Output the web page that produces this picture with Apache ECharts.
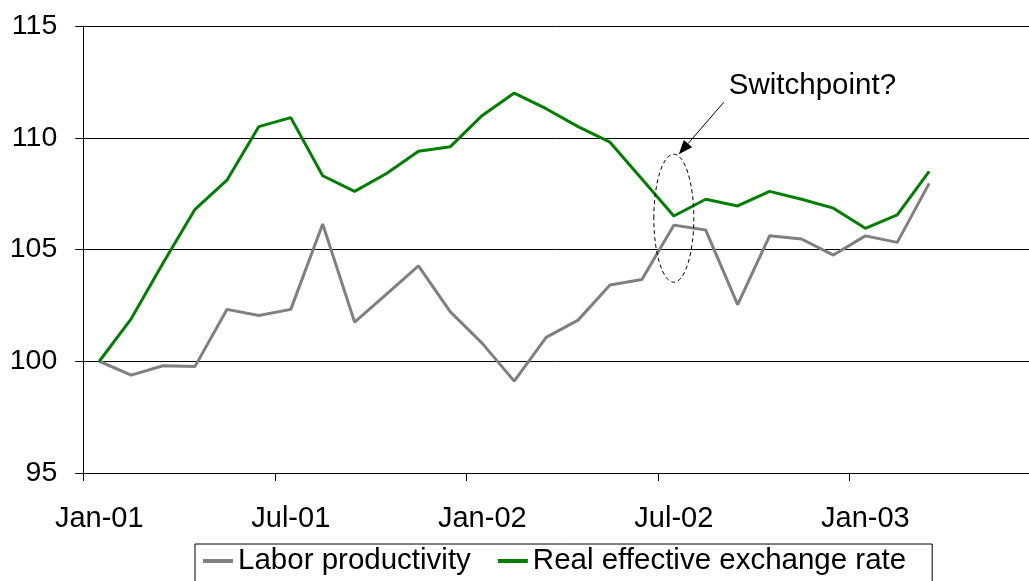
<!DOCTYPE html>
<html>
<head>
<meta charset="utf-8">
<script src="https://cdn.jsdelivr.net/npm/echarts@6/dist/echarts.min.js"></script>
<style>
  html, body { margin: 0; padding: 0; background: #fff; }
  #chart { width: 1029px; height: 581px; }
</style>
</head>
<body>
<div id="chart"></div>
<script>
// Monthly index, Jan-01 = 100
const months = [
  'Jan-01','Feb-01','Mar-01','Apr-01','May-01','Jun-01','Jul-01','Aug-01','Sep-01','Oct-01','Nov-01','Dec-01',
  'Jan-02','Feb-02','Mar-02','Apr-02','May-02','Jun-02','Jul-02','Aug-02','Sep-02','Oct-02','Nov-02','Dec-02',
  'Jan-03','Feb-03','Mar-03','Apr-03','May-03','Jun-03'
];

const laborProductivity = [
  100.0, 99.38, 99.8, 99.77, 102.32, 102.05, 102.32, 106.14, 101.75, 103.0, 104.27, 102.21,
  100.8, 99.11, 101.07, 101.84, 103.41, 103.66, 106.09, 105.87, 102.53, 105.61, 105.47, 104.75,
  105.61, 105.32, 107.96
];

const realEffectiveRate = [
  100.0, 101.9, 104.4, 106.8, 108.1, 110.5, 110.9, 108.3, 107.6, 108.4, 109.4, 109.6,
  111.0, 112.0, 111.3, 110.5, 109.8, 108.15, 106.5, 107.25, 106.95, 107.6, 107.25, 106.85,
  105.95, 106.55, 108.5
];

const seriesNames = ['Labor productivity', 'Real effective exchange rate'];
const annotationText = 'Switchpoint?';
// where the dashed ellipse is centred: month index and index level
const switchPoint = [18, 106.4];

const FONT = '"Liberation Sans", Arial, sans-serif';

const chart = echarts.init(document.getElementById('chart'), null, { renderer: 'canvas' });

chart.setOption({
  animation: false,
  backgroundColor: '#fff',
  textStyle: { fontFamily: FONT },
  // the plot runs a little past the right edge of the page
  grid: {
    left: 83.3, top: 26, width: 957.6, height: 447,
    containLabel: false,
    outerBoundsMode: 'none'
  },
  legend: {
    data: seriesNames,
    left: 195,
    top: 544,
    orient: 'horizontal',
    icon: 'rect',
    itemWidth: 30,
    itemHeight: 4,
    itemGap: 27,
    padding: [2, 26, 12, 8],
    borderColor: '#000',
    borderWidth: 1,
    textStyle: { fontSize: 29.5, color: '#000', fontFamily: FONT }
  },
  xAxis: {
    type: 'category',
    data: months,
    boundaryGap: true,
    axisLine: { lineStyle: { color: '#000', width: 1 } },
    axisTick: { show: true, interval: 5, length: 8, lineStyle: { color: '#000' } },
    axisLabel: { interval: 5, margin: 31, fontSize: 29, color: '#000', fontFamily: FONT },
    splitLine: { show: false }
  },
  yAxis: {
    type: 'value',
    min: 95,
    max: 115,
    interval: 5,
    axisLine: { show: true, lineStyle: { color: '#000', width: 1 } },
    axisTick: { show: true, length: 8, lineStyle: { color: '#000' } },
    axisLabel: { margin: 26, fontSize: 28.5, color: '#000', fontFamily: FONT },
    splitLine: { show: true, lineStyle: { color: '#000', width: 1 } }
  },
  series: [
    {
      name: seriesNames[0],
      type: 'line',
      data: laborProductivity,
      showSymbol: false,
      symbol: 'none',
      lineStyle: { color: '#808080', width: 3 },
      itemStyle: { color: '#808080' },
      z: 3
    },
    {
      name: seriesNames[1],
      type: 'line',
      data: realEffectiveRate,
      showSymbol: false,
      symbol: 'none',
      lineStyle: { color: '#008000', width: 3 },
      itemStyle: { color: '#008000' },
      z: 4
    }
  ]
});

// Dashed ellipse with a callout arrow, anchored to the plotted scale
const c = chart.convertToPixel({ seriesIndex: 0 }, switchPoint);
const rx = 20, ry = 64;
const tip = [c[0] + 5, c[1] - ry];
const tail = [c[0] + 50, c[1] - 116];
const dx = tip[0] - tail[0], dy = tip[1] - tail[1];
const len = Math.sqrt(dx * dx + dy * dy);
const ux = dx / len, uy = dy / len;
const headLen = 14, headHalf = 5.5;
const base = [tip[0] - ux * headLen, tip[1] - uy * headLen];
const head = [
  tip,
  [base[0] - uy * headHalf, base[1] + ux * headHalf],
  [base[0] + uy * headHalf, base[1] - ux * headHalf]
];

chart.setOption({
  graphic: [
    {
      type: 'ellipse',
      shape: { cx: c[0], cy: c[1], rx: rx, ry: ry },
      style: { fill: 'none', stroke: '#000', lineWidth: 1, lineDash: [4, 3] },
      z: 10
    },
    {
      type: 'line',
      shape: { x1: tail[0], y1: tail[1], x2: base[0], y2: base[1] },
      style: { stroke: '#000', lineWidth: 1 },
      z: 10
    },
    {
      type: 'polygon',
      shape: { points: head },
      style: { fill: '#000' },
      z: 10
    },
    {
      type: 'text',
      x: c[0] + 55,
      y: c[1] - 132,
      style: {
        text: annotationText,
        fontSize: 29.5,
        fontFamily: FONT,
        fill: '#000',
        textAlign: 'left',
        textVerticalAlign: 'middle',
        verticalAlign: 'middle'
      },
      z: 10
    }
  ]
});
</script>
</body>
</html>
